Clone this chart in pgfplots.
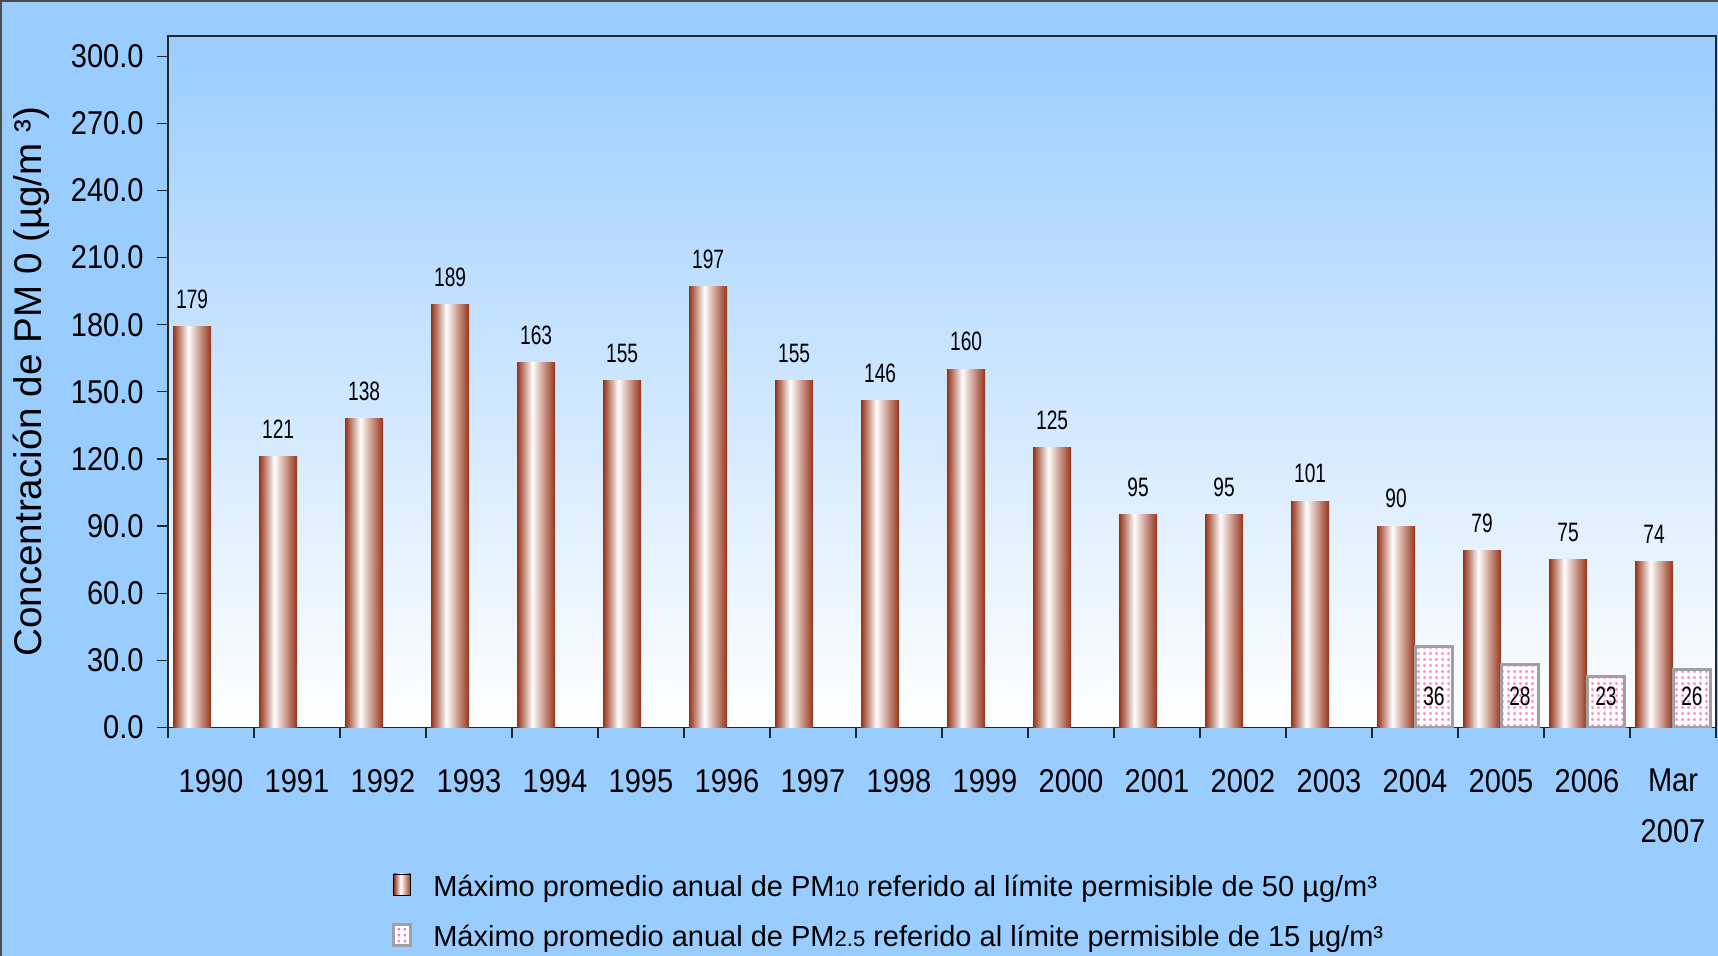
\documentclass[border=0pt]{standalone}
\usepackage{fontspec}
\setmainfont{Liberation Sans}
\newfontfamily\narrow[FakeStretch=0.72]{Liberation Sans}
\newfontfamily\ticknarrow[FakeStretch=0.88]{Liberation Sans}
\usepackage{pgfplots}
\pgfplotsset{compat=1.18}
\pgfkeys{/pgf/number format/assume math mode=true}
\usetikzlibrary{patterns.meta}
\definecolor{bgblue}{RGB}{153,204,255}
\definecolor{plottop}{RGB}{155,205,255}
\definecolor{bardark}{RGB}{150,52,25}
\definecolor{pinkdot}{RGB}{250,120,190}
\definecolor{pmgray}{RGB}{160,160,160}
\pgfdeclarehorizontalshading{barshade}{100bp}{color(0bp)=(bardark); color(25bp)=(bardark); color(45bp)=(white); color(75bp)=(bardark); color(100bp)=(bardark)}
\tikzdeclarepattern{name=pinkdots, type=uncolored, bottom left={(0pt,0pt)}, top right={(3pt,3pt)}, tile size={(3pt,3pt)}, code={\fill (0.85pt,0.85pt) rectangle (2.15pt,2.15pt);}}
\pgfplotsset{
  pmten/.style={ybar, bar shift=-0.22, shading=barshade, draw=none,
    nodes near coords, nodes near coords style={font=\narrow\fontsize{13.3}{15}\selectfont, anchor=south, yshift=5.6pt, xshift=-9.46pt}},
}
\begin{document}
\begin{tikzpicture}
\useasboundingbox (0pt,0pt) rectangle (859pt,478pt);
\fill[bgblue] (0pt,0pt) rectangle (859pt,478pt);
\draw[line width=2pt, black!70] (0pt,0pt) -- (0pt,478pt) -- (859pt,478pt);
\begin{axis}[
  at={(84pt,114.25pt)}, anchor=south west,
  width=774pt, height=345.75pt, scale only axis,
  xmin=-0.5, xmax=17.5, ymin=0, ymax=309,
  axis background/.style={top color=plottop, bottom color=white},
  axis line style={black!85, line width=0.6pt},
  xtick={-0.5,0.5,...,17.5},
  x tick label as interval,
  xticklabels={1990,1991,1992,1993,1994,1995,1996,1997,1998,1999,2000,2001,2002,2003,2004,2005,2006,{Mar\\[6.5pt]2007}},
  ytick={0,30,...,300},
  xtick pos=bottom, ytick pos=left,
  tick align=outside, major tick length=5.5pt,
  tick style={black!85, line width=0.6pt},
  tick label style={font=\ticknarrow\fontsize{16.5}{19}\selectfont},
  xticklabel style={align=center, yshift=-11.75pt},
  yticklabel style={xshift=-3.2pt, /pgf/number format/.cd, fixed, fixed zerofill, precision=1},
  ylabel={Concentración de PM 0 (µg/m ³)},
  ylabel style={font=\fontsize{19.3}{22}\selectfont, at={(axis description cs:-0.0885,0.5)}, anchor=center},
  bar width=0.44,
  legend style={at={(0.1447,-0.267)}, anchor=west, draw=none, fill=none,
    font=\fontsize{14.5}{17}\selectfont, cells={anchor=west}, row sep=9pt, inner sep=0pt},
  legend image code/.code={\draw[#1] (0pt,-4pt) rectangle (8.5pt,6.5pt); \node[inner sep=0pt, outer sep=0pt, minimum size=0pt, opacity=0] at (17.7pt,1pt) {};},
]
\addplot[pmten] coordinates {(0,179)};
\addlegendentry{Máximo promedio anual de PM{\fontsize{11}{11}\selectfont 10} referido al límite permisible de 50 µg/m³}
\addplot[pmten, forget plot] coordinates {(1,121)};
\addplot[pmten, forget plot] coordinates {(2,138)};
\addplot[pmten, forget plot] coordinates {(3,189)};
\addplot[pmten, forget plot] coordinates {(4,163)};
\addplot[pmten, forget plot] coordinates {(5,155)};
\addplot[pmten, forget plot] coordinates {(6,197)};
\addplot[pmten, forget plot] coordinates {(7,155)};
\addplot[pmten, forget plot] coordinates {(8,146)};
\addplot[pmten, forget plot] coordinates {(9,160)};
\addplot[pmten, forget plot] coordinates {(10,125)};
\addplot[pmten, forget plot] coordinates {(11,95)};
\addplot[pmten, forget plot] coordinates {(12,95)};
\addplot[pmten, forget plot] coordinates {(13,101)};
\addplot[pmten, forget plot] coordinates {(14,90)};
\addplot[pmten, forget plot] coordinates {(15,79)};
\addplot[pmten, forget plot] coordinates {(16,75)};
\addplot[pmten, forget plot] coordinates {(17,74)};
\addplot[ybar, bar shift=0.22, preaction={fill=white}, pattern=pinkdots, pattern color=pinkdot, draw=pmgray, line width=1.5pt]
  coordinates {(14,36) (15,28) (16,23) (17,26)};
\addlegendentry{Máximo promedio anual de PM{\fontsize{11}{11}\selectfont 2.5} referido al límite permisible de 15 µg/m³}
\addplot[ybar, bar shift=0.22, draw=none, fill=none, forget plot, nodes near coords, point meta=explicit,
  nodes near coords style={font=\narrow\fontsize{13.3}{15}\selectfont, anchor=center, yshift=0pt, xshift=9.46pt}]
  coordinates {(14,14) [36] (15,14) [28] (16,14) [23] (17,14) [26]};
\end{axis}
\end{tikzpicture}
\end{document}
